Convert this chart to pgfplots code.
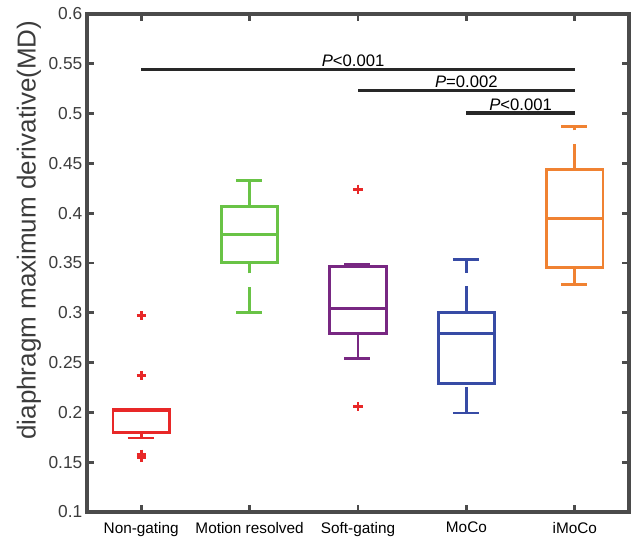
\documentclass[border=0pt]{standalone}
\usepackage{fontspec}
\setmainfont{Liberation Sans}
\usepackage{pgfplots}
\pgfplotsset{compat=1.18}
\usepgfplotslibrary{statistics}

\definecolor{axgray}{RGB}{75,75,75}
\definecolor{cred}{RGB}{232,40,40}
\definecolor{cgreen}{RGB}{105,195,70}
\definecolor{cpurple}{RGB}{120,40,130}
\definecolor{cblue}{RGB}{55,75,165}
\definecolor{corange}{RGB}{240,130,50}
\definecolor{sig}{RGB}{40,40,40}

\begin{document}
\begin{tikzpicture}
\begin{axis}[
    name=ax,
    scale only axis,
    width=406.5pt, height=373.5pt,
    xmin=0.5, xmax=5.5, ymin=0.1, ymax=0.6,
    xtick={1,2,3,4,5},
    xticklabels={Non-gating,Motion resolved,Soft-gating,MoCo,iMoCo},
    ytick={0.1,0.15,0.2,0.25,0.3,0.35,0.4,0.45,0.5,0.55,0.6},
    yticklabels={0.1,0.15,0.2,0.25,0.3,0.35,0.4,0.45,0.5,0.55,0.6},
    axis line style={line width=2.5pt, draw=axgray},
    major tick style={line width=2pt, draw=axgray},
    major tick length=5pt,
    yticklabel style={font=\fontsize{13}{15}\selectfont, text=axgray!80!black},
    xticklabel style={font=\fontsize{11.5}{13}\selectfont, text=black, yshift=-4pt},
    ylabel={diaphragm maximum derivative(MD)},
    ylabel style={font=\fontsize{19.5}{22}\selectfont, text=axgray!80!black,
        at={(axis description cs:-0.107,0.566)}, anchor=center},
    boxplot/draw direction=y,
    boxplot/box extend=0.52,
    boxplot/whisker extend=0.25,
    boxplot/every whisker/.style={dash pattern=on 19.5pt off 10pt},
    % lower whisker drawn upwards from its cap, as in the original
    boxplot/draw/lower whisker/.code={
        \draw[/pgfplots/boxplot/every whisker/.try]
            (boxplot cs:\pgfplotsboxplotvalue{lower whisker})
            -- (boxplot cs:\pgfplotsboxplotvalue{lower quartile})
            (boxplot whisker cs:\pgfplotsboxplotvalue{lower whisker},0)
            -- (boxplot whisker cs:\pgfplotsboxplotvalue{lower whisker},1);
    },
    nomark/.style={mark=*, mark size=0pt, mark options={draw=none, fill=none}},
]

% Non-gating (outliers given with the box)
\addplot+[cred, solid, line width=2.2pt, mark=+, mark size=3.5pt,
    mark options={draw=cred, line width=2.2pt},
    boxplot prepared={draw position=1,
    lower whisker=0.1743, lower quartile=0.18, median=0.2015,
    upper quartile=0.2027, upper whisker=0.2027}]
    table[row sep=\\, y index=0] {y\\ 0.297\\ 0.237\\ 0.158\\ 0.155\\};
% Motion resolved
\addplot+[cgreen, solid, line width=2.2pt, nomark,
    boxplot prepared={draw position=2,
    lower whisker=0.300, lower quartile=0.3508, median=0.3786,
    upper quartile=0.4068, upper whisker=0.4329}]
    table[row sep=\\, y index=0] {y\\ 0.3786\\};
% Soft-gating
\addplot+[cpurple, solid, line width=2.2pt, mark=+, mark size=3.5pt,
    mark options={draw=cred, line width=2.2pt},
    boxplot prepared={draw position=3,
    lower whisker=0.2537, lower quartile=0.2788, median=0.3045,
    upper quartile=0.3467, upper whisker=0.3484}]
    table[row sep=\\, y index=0] {y\\ 0.424\\ 0.206\\};
% MoCo
\addplot+[cblue, solid, line width=2.2pt, nomark,
    boxplot prepared={draw position=4,
    lower whisker=0.1994, lower quartile=0.229, median=0.2788,
    upper quartile=0.3005, upper whisker=0.3535}]
    table[row sep=\\, y index=0] {y\\ 0.2788\\};
% iMoCo
\addplot+[corange, solid, line width=2.2pt, nomark,
    boxplot prepared={draw position=5,
    lower whisker=0.328, lower quartile=0.3457, median=0.3944,
    upper quartile=0.4436, upper whisker=0.487}]
    table[row sep=\\, y index=0] {y\\ 0.3944\\};

% significance bars
\addplot[sig, line width=2.5pt] coordinates {(1,0.5444) (5,0.5444)};
\addplot[sig, line width=2.5pt] coordinates {(3,0.5233) (5,0.5233)};
\addplot[sig, line width=2.5pt] coordinates {(4,0.5005) (5,0.5005)};

\node[anchor=base, inner sep=0pt, font=\fontsize{12.5}{14}\selectfont]
    at (axis cs:2.955,0.5475) {\textit{P}<0.001};
\node[anchor=base, inner sep=0pt, font=\fontsize{12.5}{14}\selectfont]
    at (axis cs:4.0,0.5265) {\textit{P}=0.002};
\node[anchor=base, inner sep=0pt, font=\fontsize{12.5}{14}\selectfont]
    at (axis cs:4.5,0.503) {\textit{P}<0.001};
\end{axis}
\pgfresetboundingbox
\path[use as bounding box] ([shift={(-65.25pt,-24pt)}]ax.south west)
    rectangle ([shift={(3pt,10.5pt)}]ax.north east);
\end{tikzpicture}
\end{document}
